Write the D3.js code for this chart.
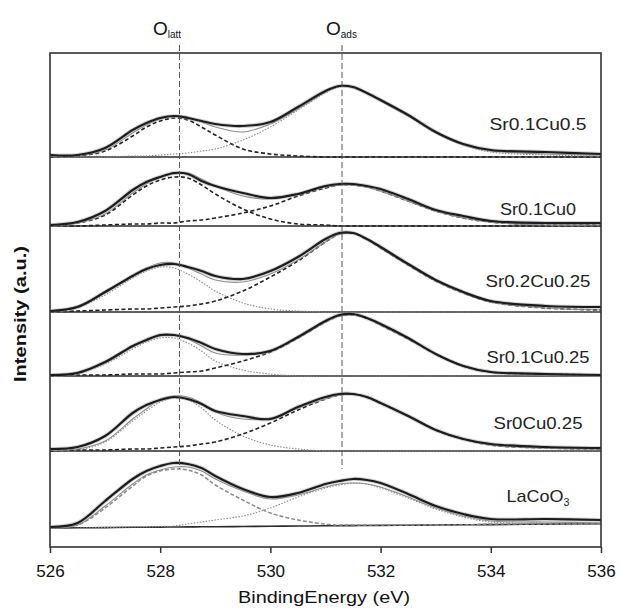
<!DOCTYPE html>
<html><head><meta charset="utf-8">
<script src="https://cdn.jsdelivr.net/npm/d3@7"></script>
<style>body{margin:0;background:#fff;} svg{display:block;}</style>
</head><body>
<svg id="chart" width="621" height="612"></svg>
<script>
// ---------- DATA ----------
const energy = [526, 526.5, 527, 527.5, 527.75, 528, 528.25, 528.5, 528.75, 529, 529.5, 530, 530.5, 531, 531.25, 531.5, 531.75, 532, 532.5, 533, 533.5, 534, 535, 536];
const xTicks = [526, 528, 530, 532, 534, 536];
const samples = ["Sr0.1Cu0.5", "Sr0.1Cu0", "Sr0.2Cu0.25", "Sr0.1Cu0.25", "Sr0Cu0.25", "LaCoO3"];
const offsets = [390, 321, 235, 171, 96, 19];           // stacking offsets (a.u.)
const peakPositions = [528.35, 531.3];
const peakNames = ["latt", "ads"];

// Sr0.1Cu0.5
const expA  = [2,2,9,27,34,39,41,39,36,33,31,35,50,66,71,70,64,57,42,25,13,7,5,3];
const fitA  = [1,2,7,24,32,38,41,40,35,30,25,33,48,65,71,70,64,56,41,24,12,6,3,2];
const latA  = [0,1,6,21,30,36,39,37,30,22,8,3,1,0,0,0,0,0,0,0,0,0,0,0];
const adsA  = [0,0,0,1,1,2,3,4,6,8,17,30,47,64,70,69,64,56,41,24,12,5,2,1];
// Sr0.1Cu0
const expB  = [1,4,15,36,44,49,53,52,45,40,33,28,32,40,42,42,40,37,27,16,10,5,3,3];
const fitB  = [1,3,12,33,42,49,52,53,47,40,30,27,32,39,41,41,39,35,25,15,8,4,1,1];
const latB  = [1,3,11,31,40,46,49,48,41,32,17,7,2,1,0,0,0,0,0,0,0,0,0,0];
const adsB  = [0,0,1,2,2,3,3,5,6,8,13,20,30,38,41,41,39,35,25,15,8,4,1,1];
// Sr0.2Cu0.25
const expC  = [1,5,20,36,43,47,48,45,41,36,33,41,55,73,79,79,73,65,48,32,20,11,6,5];
const fitC  = [1,6,19,37,44,49,49,44,38,32,30,38,52,70,78,79,73,64,47,31,19,10,4,2];
const latC  = [1,5,17,34,41,45,44,38,30,21,9,3,1,0,0,0,0,0,0,0,0,0,0,0];
const adsC  = [0,1,2,3,3,4,5,6,8,11,21,35,51,70,78,79,73,64,47,31,19,10,4,2];
// Sr0.1Cu0.25
const expD  = [1,3,14,30,36,41,41,38,33,27,22,25,39,55,61,62,58,52,38,22,10,4,2,1];
const fitD  = [1,4,13,29,36,40,41,37,30,23,21,26,38,54,60,61,58,51,37,22,10,4,2,1];
const latD  = [1,3,12,27,34,38,38,33,25,15,6,2,0,0,0,0,0,0,0,0,0,0,0,0];
const adsD  = [0,1,1,2,2,2,3,4,5,8,15,24,38,54,60,61,58,51,37,22,10,4,2,1];
// Sr0Cu0.25
const expE  = [2,4,15,38,46,51,54,52,47,40,35,32,44,54,57,57,54,48,35,21,12,7,4,3];
const fitE  = [1,2,10,32,42,52,55,54,48,39,32,33,43,52,56,57,54,48,35,21,12,6,3,2];
const latE  = [0,1,9,30,40,49,53,51,43,31,15,6,2,0,0,0,0,0,0,0,0,0,0,0];
const adsE  = [0,1,1,2,2,3,4,5,7,9,17,28,41,52,56,57,54,48,35,21,12,6,3,2];
// LaCoO3
const expF  = [1,5,27,49,57,62,65,64,60,52,39,31,35,44,47,49,48,45,34,22,14,9,9,8];
const fitF  = [1,3,22,44,53,58,61,61,57,49,37,29,33,41,44,45,44,41,31,20,12,7,6,5];
const latF  = [1,3,20,42,52,57,59,58,53,43,28,15,8,4,3,3,3,3,3,3,3,4,4,4];
const adsF  = [0,0,0.5,1,1,1.5,2,4,6,8,12,20,31,40,43,45,44,40,30,19,11,6,5,4];
const bgF   = [0,0.2,0.4,0.7,0.8,0.9,1,1.1,1.2,1.3,1.5,1.8,2,2.2,2.3,2.4,2.5,2.6,2.8,3,3.2,3.4,3.9,4.4];

const expAll = [expA, expB, expC, expD, expE, expF];
const fitAll = [fitA, fitB, fitC, fitD, fitE, fitF];
const latAll = [latA, latB, latC, latD, latE, latF];
const adsAll = [adsA, adsB, adsC, adsD, adsE, adsF];

// ---------- STYLES ----------
const styles = {
  dashBlack: {stroke: "#222", width: 1.6, dash: "4,2.5"},
  dotGrey:   {stroke: "#8a8a8a", width: 1.1, dash: "1.5,1.5"},
  dashGrey:  {stroke: "#8a8a8a", width: 1.5, dash: "4,2"}
};
const latStyle = ["dashBlack","dashBlack","dotGrey","dotGrey","dotGrey","dashGrey"];
const adsStyle = ["dotGrey","dashBlack","dashBlack","dashBlack","dashBlack","dotGrey"];
const labelY = [124, 209, 281, 357, 423, 496];
const labelW = [97, 76, 105, 103, 89, 63];

// ---------- CHART ----------
const svg = d3.select("#chart");
const L = 50, R = 601, T = 53, B = 547;
const x = d3.scaleLinear().domain([526, 536]).range([L, R]);
const y = d3.scaleLinear().domain([0, B - T]).range([B, T]);
const font = "'Liberation Sans', Arial, sans-serif";

svg.append("defs").append("clipPath").attr("id", "clip")
  .append("rect").attr("x", L).attr("y", T).attr("width", R - L).attr("height", B - T);
const g = svg.append("g").attr("clip-path", "url(#clip)");

const mkLine = (off) => d3.line()
  .x((d, i) => x(energy[i]))
  .y(d => y(off + d))
  .curve(d3.curveCatmullRom.alpha(0.5));

samples.forEach((s, k) => {
  const off = offsets[k];
  const line = mkLine(off);
  if (k < 5) {
    g.append("line").attr("x1", L).attr("x2", R)
      .attr("y1", y(off)).attr("y2", y(off))
      .attr("stroke", "#2a2a2a").attr("stroke-width", 1.6);
  } else {
    g.append("path").attr("d", line(bgF)).attr("fill", "none")
      .attr("stroke", "#2a2a2a").attr("stroke-width", 1.6);
  }
  const comp = (data, st) => {
    const S = styles[st];
    g.append("path").attr("d", line(data)).attr("fill", "none")
      .attr("stroke", S.stroke).attr("stroke-width", S.width)
      .attr("stroke-dasharray", S.dash);
  };
  comp(latAll[k], latStyle[k]);
  comp(adsAll[k], adsStyle[k]);
  g.append("path").attr("d", line(fitAll[k])).attr("fill", "none")
    .attr("stroke", "#8c8c8c").attr("stroke-width", 1.1);
  g.append("path").attr("d", line(expAll[k])).attr("fill", "none")
    .attr("stroke", "#a0a0a0").attr("stroke-width", 4.2).attr("stroke-opacity", 0.45);
  g.append("path").attr("d", line(expAll[k])).attr("fill", "none")
    .attr("stroke", "#1c1c1c").attr("stroke-width", 2.2);

  const t = svg.append("text").attr("x", 538).attr("y", labelY[k] + 6)
    .attr("text-anchor", "middle").attr("font-family", font)
    .attr("font-size", 17).attr("fill", "#222")
    .attr("textLength", labelW[k]).attr("lengthAdjust", "spacingAndGlyphs");
  if (s === "LaCoO3") {
    t.append("tspan").text("LaCoO");
    t.append("tspan").attr("font-size", 10).attr("dy", 4).text("3");
  } else {
    t.text(s);
  }
});

peakPositions.forEach(p => {
  svg.append("line").attr("x1", x(p)).attr("x2", x(p))
    .attr("y1", 45).attr("y2", 469)
    .attr("stroke", "#555").attr("stroke-width", 1)
    .attr("stroke-dasharray", "6,3");
});
const labelStart = [153, 326];
peakNames.forEach((n, i) => {
  const t = svg.append("text").attr("x", labelStart[i]).attr("y", 35)
    .attr("font-family", font).attr("font-size", 19).attr("fill", "#111");
  t.append("tspan").text("O");
  t.append("tspan").attr("font-size", 10).attr("dy", 3).text(n);
});

svg.append("rect").attr("x", L).attr("y", T).attr("width", R - L).attr("height", B - T)
  .attr("fill", "none").attr("stroke", "#333").attr("stroke-width", 1.6);

const ax = svg.append("g").attr("transform", `translate(0,${B})`)
  .call(d3.axisBottom(x).tickValues(xTicks).tickSize(6).tickPadding(12).tickFormat(d3.format("d")));
ax.select(".domain").remove();
ax.selectAll("line").attr("stroke", "#333").attr("stroke-width", 1.5);
ax.selectAll("text").attr("font-family", font).attr("font-size", 17).attr("fill", "#111");

svg.append("text").attr("x", 324).attr("y", 603)
  .attr("text-anchor", "middle").attr("font-family", font).attr("font-size", 17)
  .attr("textLength", 172).attr("lengthAdjust", "spacingAndGlyphs")
  .attr("fill", "#111").text("BindingEnergy (eV)");
svg.append("text").attr("transform", "translate(26,314) rotate(-90)")
  .attr("text-anchor", "middle").attr("font-family", font).attr("font-size", 16)
  .attr("textLength", 136).attr("lengthAdjust", "spacingAndGlyphs")
  .attr("font-weight", "bold").attr("fill", "#111").text("Intensity (a.u.)");
</script>
</body></html>
